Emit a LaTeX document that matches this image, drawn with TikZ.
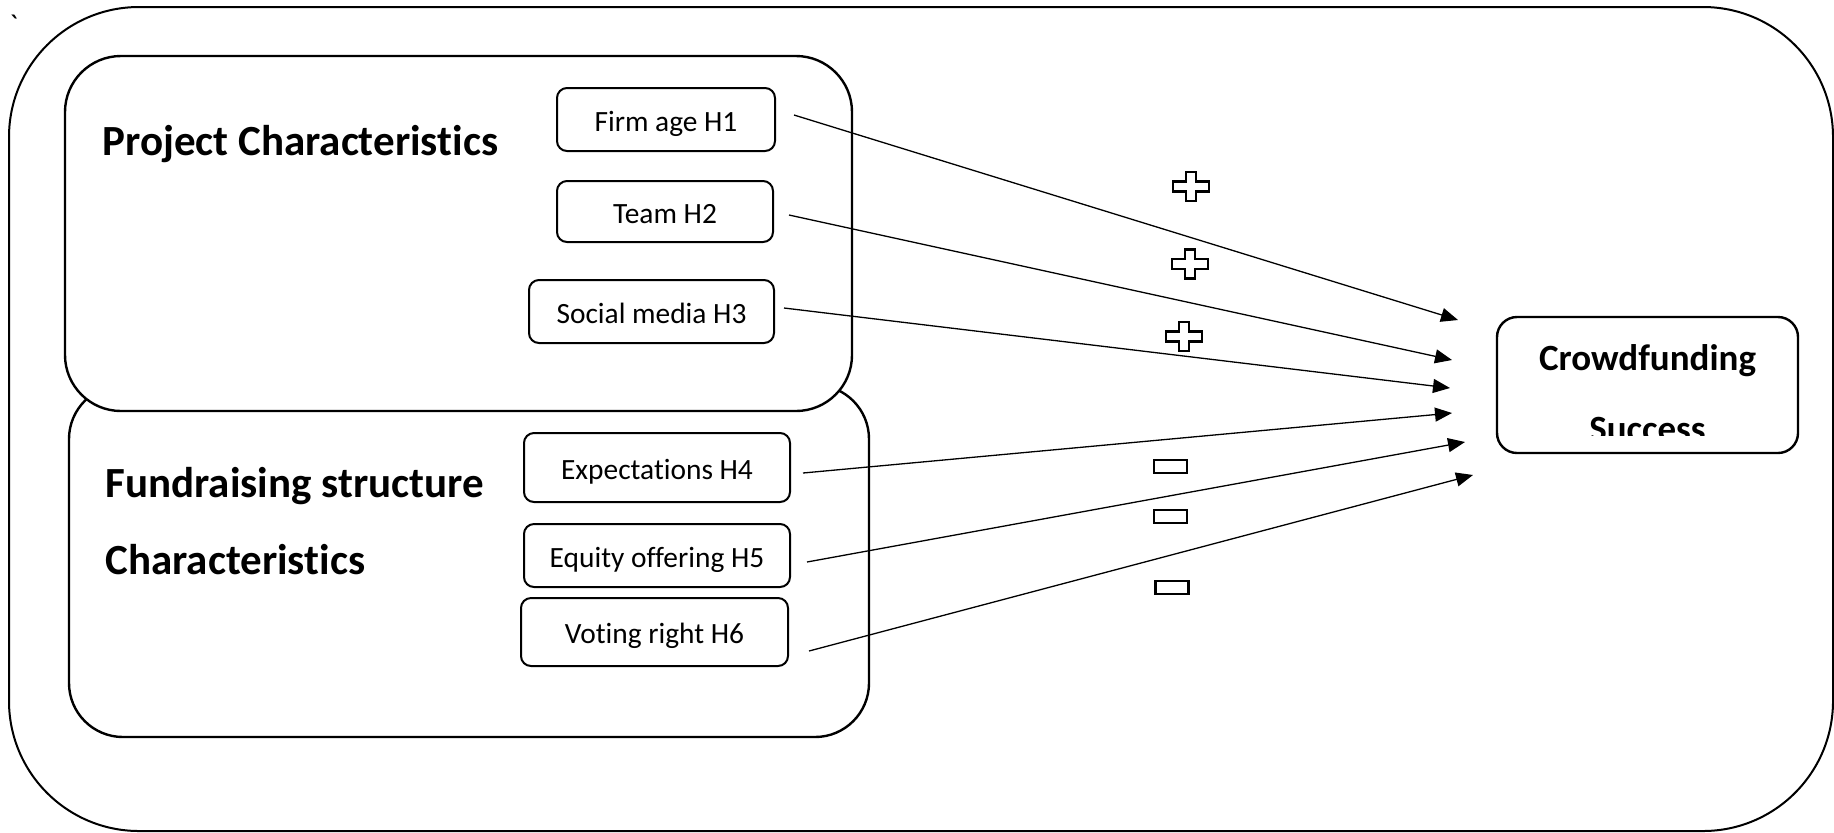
\documentclass[tikz,border=0pt]{standalone}
\usepackage{fontspec}
\setmainfont{Carlito}[Ligatures={NoCommon,NoContextual}]
\usetikzlibrary{arrows.meta}
\tikzset{
  container/.style={draw=black, line width=1.2pt},
  itembox/.style={draw=black, line width=1pt, rounded corners=5pt, fill=white,
    inner sep=0pt, text height=11.5pt, text depth=0pt,
    font=\fontsize{14.7}{17}\selectfont},
  heading/.style={anchor=base west, inner sep=0pt,
    font=\fontsize{21.5}{25}\selectfont\bfseries},
  outcome/.style={draw=black, line width=1.2pt, rounded corners=10pt, inner sep=0pt},
  outcometext/.style={anchor=base, inner sep=0pt,
    font=\fontsize{18.5}{22}\selectfont\bfseries},
  effect/.style={line width=0.65pt, -{Triangle[length=8.5pt,width=7pt]}},
  signmark/.style={draw=black, line width=1.2pt, line join=miter},
  pics/plussign/.style={code={
    \draw[signmark] (-5,-14.5) -- (5,-14.5) -- (5,-5) -- (18,-5) -- (18,5) -- (5,5)
      -- (5,14.5) -- (-5,14.5) -- (-5,5) -- (-18,5) -- (-18,-5) -- (-5,-5) -- cycle;}},
  pics/minussign/.style={code={
    \draw[signmark] (-16.5,-6.5) rectangle (16.5,6.5);}}
}
\begin{document}
\begin{tikzpicture}[x=0.5pt,y=-0.5pt]
\useasboundingbox (0,0) rectangle (1834,832);

% stray mark in the corner
\node[inner sep=0pt, anchor=north west, font=\fontsize{15}{17}\selectfont] (tick) at (9,15) {\textasciigrave};

% outer frame
\draw[container, line width=1pt, rounded corners=65pt] (9,7) rectangle (1833,831);

% groups of determinants
\draw[container, rounded corners=27pt] (69,385) rectangle (869,737);
\draw[container, rounded corners=28pt, fill=white] (65,56) rectangle (852,411);

\node[heading] (projhead) at (102,155) {Project Characteristics};
\node[heading] (fundhead1) at (105,497) {Fundraising structure};
\node[heading] (fundhead2) at (105,574) {Characteristics};

% hypotheses
\node[itembox, minimum width=109pt, minimum height=31.5pt] (h1) at (666,119.5) {Firm age H1};
\node[itembox, minimum width=108pt, minimum height=30.5pt] (h2) at (665,211.5) {Team H2};
\node[itembox, minimum width=122.5pt, minimum height=31.5pt] (h3) at (651.5,311.5) {Social media H3};
\node[itembox, minimum width=133pt, minimum height=34.5pt] (h4) at (657,467.5) {Expectations H4};
\node[itembox, minimum width=133pt, minimum height=31.5pt] (h5) at (657,555.5) {Equity offering H5};
\node[itembox, minimum width=133.5pt, minimum height=34pt] (h6) at (654.5,632) {Voting right H6};

% outcome
\node[outcome, minimum width=150.5pt, minimum height=68pt] (cs) at (1647.5,385) {};
\node[outcometext] (cstop) at (1647.5,370) {Crowdfunding};
\begin{scope}
  \clip (1497,317) rectangle (1798,435);
  \node[outcometext] (csbottom) at (1647.5,441) {Success};
\end{scope}

% arrow ends
\coordinate (s1) at (794,115);  \coordinate (t1) at (1458,320);
\coordinate (s2) at (789,215);  \coordinate (t2) at (1452,360);
\coordinate (s3) at (784,308);  \coordinate (t3) at (1450,388);
\coordinate (s4) at (803,473);  \coordinate (t4) at (1452,413);
\coordinate (s5) at (807,562);  \coordinate (t5) at (1465,442);
\coordinate (s6) at (809,651);  \coordinate (t6) at (1473,475);

\draw[effect] (s1) -- (t1);
\draw[effect] (s2) -- (t2);
\draw[effect] (s3) -- (t3);
\draw[effect] (s4) -- (t4);
\draw[effect] (s5) -- (t5);
\draw[effect] (s6) -- (t6);

% expected signs
\pic at (1191,186.5) {plussign};
\pic at (1190,264) {plussign};
\pic at (1184,336.5) {plussign};
\pic at (1170.5,466.5) {minussign};
\pic at (1170.5,516.5) {minussign};
\pic at (1172,587.5) {minussign};
\end{tikzpicture}
\end{document}
